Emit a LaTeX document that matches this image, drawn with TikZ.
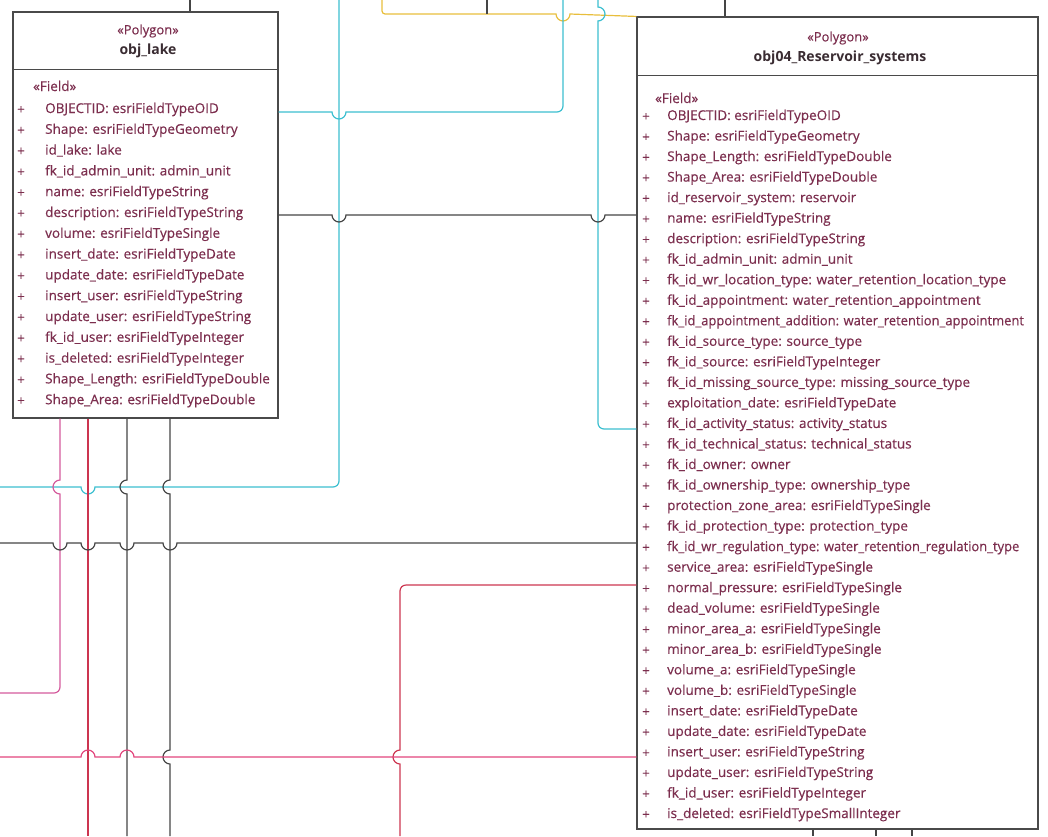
\documentclass[tikz,border=0pt]{standalone}
\usepackage{graphicx}
\usepackage{fontspec}
\setmainfont{Open Sans}
\newfontfamily\fieldfont[FakeBold=0.35]{Open Sans}

\definecolor{fieldred}{HTML}{7C2E4E}
\definecolor{namegray}{HTML}{3A2C32}
\definecolor{boxgray}{HTML}{4A4A4A}
\definecolor{linecyan}{HTML}{3CBFD0}
\definecolor{linegray}{HTML}{454545}
\definecolor{linepink}{HTML}{D45A9C}
\definecolor{linecrimson}{HTML}{CC3550}
\definecolor{linerose}{HTML}{E2457C}
\definecolor{lineyellow}{HTML}{E8BE3C}

\tikzset{
  umlbox/.style={draw=boxgray, line width=1.1pt, fill=white, inner sep=0pt},
  divider/.style={draw=boxgray, line width=1.1pt},
  stereo/.style={inner sep=0pt, text=fieldred, font=\fontsize{13}{13}\fieldfont},
  classname/.style={inner sep=0pt, text=namegray, font=\fontsize{14}{14}\selectfont\bfseries},
  field/.style={anchor=west, inner sep=0pt, text height=9pt, text depth=3pt,
    text=fieldred, font=\fontsize{13.5}{13.5}\fieldfont},
  plus/.style={inner sep=0pt, text=fieldred, font=\fontsize{13}{13}\fieldfont},
  conn/.style={line width=1.2pt},
}

\begin{document}
\begin{tikzpicture}[x=1pt,y=-1pt]
\useasboundingbox (0,0) rectangle (1048,836);

% the two classes
\node[umlbox, minimum width=265pt, minimum height=406pt] (lake) at (145.5,215) {};
\node[umlbox, minimum width=401pt, minimum height=812pt] (reservoir) at (837.5,423) {};
\draw[divider] ([yshift=-58pt]lake.north west) -- ([yshift=-58pt]lake.north east);
\draw[divider] ([yshift=-59pt]reservoir.north west) -- ([yshift=-59pt]reservoir.north east);

\node[stereo] (lakestereo) at (148,31) {«Polygon»};
\node[classname] (lakename) at (148,51) {obj\_lake};
\node[stereo] (resstereo) at (838,38) {«Polygon»};
\node[classname] (resname) at (840,58) {obj04\_Reservoir\_systems};

\node[field] (lakehead) at (33,88) {«Field»};
\node[field] (reshead) at (655,100) {«Field»};

\foreach \f [count=\i from 0] in {OBJECTID: esriFieldTypeOID, Shape: esriFieldTypeGeometry,
  id\_lake: lake, fk\_id\_admin\_unit: admin\_unit, name: esriFieldTypeString,
  description: esriFieldTypeString, volume: esriFieldTypeSingle,
  insert\_date: esriFieldTypeDate, update\_date: esriFieldTypeDate,
  insert\_user: esriFieldTypeString, update\_user: esriFieldTypeString,
  fk\_id\_user: esriFieldTypeInteger, is\_deleted: esriFieldTypeInteger,
  Shape\_Length: esriFieldTypeDouble, Shape\_Area: esriFieldTypeDouble}
{
  \node[plus] (lakeplus\i) at (21,110+20.8*\i) {+};
  \node[field] (lakefield\i) at (45,110+20.8*\i) {\f};
}

\foreach \f [count=\i from 0] in {OBJECTID: esriFieldTypeOID, Shape: esriFieldTypeGeometry,
  Shape\_Length: esriFieldTypeDouble, Shape\_Area: esriFieldTypeDouble,
  id\_reservoir\_system: reservoir, name: esriFieldTypeString,
  description: esriFieldTypeString, fk\_id\_admin\_unit: admin\_unit,
  fk\_id\_wr\_location\_type: water\_retention\_location\_type,
  fk\_id\_appointment: water\_retention\_appointment,
  \scalebox{0.96}[1]{fk\_id\_appointment\_addition: water\_retention\_appointment},
  fk\_id\_source\_type: source\_type, fk\_id\_source: esriFieldTypeInteger,
  fk\_id\_missing\_source\_type: missing\_source\_type,
  exploitation\_date: esriFieldTypeDate, fk\_id\_activity\_status: activity\_status,
  fk\_id\_technical\_status: technical\_status, fk\_id\_owner: owner,
  fk\_id\_ownership\_type: ownership\_type, protection\_zone\_area: esriFieldTypeSingle,
  fk\_id\_protection\_type: protection\_type,
  \scalebox{0.96}[1]{fk\_id\_wr\_regulation\_type: water\_retention\_regulation\_type},
  service\_area: esriFieldTypeSingle, normal\_pressure: esriFieldTypeSingle,
  dead\_volume: esriFieldTypeSingle, minor\_area\_a: esriFieldTypeSingle,
  minor\_area\_b: esriFieldTypeSingle, volume\_a: esriFieldTypeSingle,
  volume\_b: esriFieldTypeSingle, insert\_date: esriFieldTypeDate,
  update\_date: esriFieldTypeDate, insert\_user: esriFieldTypeString,
  update\_user: esriFieldTypeString, fk\_id\_user: esriFieldTypeInteger,
  is\_deleted: esriFieldTypeSmallInteger}
{
  \node[plus] (resplus\i) at (646,117+20.53*\i) {+};
  \node[field] (resfield\i) at (667,117+20.53*\i) {\f};
}

% free ends at the picture's border
\coordinate (cyanAtop) at (563,0);
\coordinate (cyanBtop) at (598,0);
\coordinate (cyanCtop) at (339,0);
\coordinate (cyanCend) at (0,487);
\coordinate (yellowtop) at (382,0);
\coordinate (tickAtop) at (487,0);
\coordinate (tickAfoot) at (487,14);
\coordinate (tickBtop) at (725,0);
\coordinate (tickCtop) at (190,0);
\coordinate (blackFstart) at (0,543);
\coordinate (pinkLend) at (0,693);
\coordinate (roseHstart) at (0,757);
\coordinate (crimsonfoot) at (88,836);
\coordinate (grayAfoot) at (127,836);
\coordinate (grayBfoot) at (170,836);
\coordinate (crimsonGfoot) at (400,836);
\coordinate (resfootA) at (813,836);
\coordinate (resfootB) at (876,836);
\coordinate (resfootC) at (912,836);

% connectors
\draw[conn, lineyellow] (yellowtop) [rounded corners=3pt] -- (382,14) -- (450,14) [sharp corners]
  -- (556,14) arc[start angle=180, end angle=0, radius=7] -- (reservoir.north west);
\draw[conn, linegray] (tickAtop) -- (tickAfoot);
\draw[conn, linegray] (tickBtop) -- (reservoir.north -| tickBtop);
\draw[conn, linegray] (tickCtop) -- (lake.north -| tickCtop);

\draw[conn, linecyan] (lake.east |- 0,112) -- (332,112) arc[start angle=180, end angle=0, radius=7]
  -- (450,112) [rounded corners=6pt] -- (563,112) -- (563,60) [sharp corners] -- (cyanAtop);
\draw[conn, linecyan] (reservoir.west |- 0,429) [rounded corners=6pt] -- (598,429) -- (598,300) [sharp corners]
  -- (598,21) arc[start angle=90, end angle=-90, radius=7] -- (cyanBtop);
\draw[conn, linecyan] (cyanCtop) -- (339,300) [rounded corners=6pt] -- (339,487) -- (220,487) [sharp corners]
  -- (95,487) arc[start angle=0, end angle=180, radius=7] -- (cyanCend);

\draw[conn, linegray] (lake.east |- 0,215) -- (332,215) arc[start angle=180, end angle=0, radius=7]
  -- (591,215) arc[start angle=180, end angle=0, radius=7] -- (reservoir.west |- 0,215);

\draw[conn, linepink] (lake.south -| 60,0) -- (60,480) arc[start angle=270, end angle=90, radius=7]
  -- (60,600) [rounded corners=6pt] -- (60,693) -- (30,693) [sharp corners] -- (pinkLend);
\draw[conn, linecrimson] (lake.south -| crimsonfoot) -- (crimsonfoot);
\draw[conn, linegray] (lake.south -| grayAfoot) -- (127,480) arc[start angle=270, end angle=90, radius=7] -- (grayAfoot);
\draw[conn, linegray] (lake.south -| grayBfoot) -- (170,480) arc[start angle=270, end angle=90, radius=7]
  -- (170,750) arc[start angle=270, end angle=90, radius=7] -- (grayBfoot);

\draw[conn, linegray] (blackFstart) -- (53,543) arc[start angle=180, end angle=0, radius=7]
  -- (81,543) arc[start angle=180, end angle=0, radius=7]
  -- (120,543) arc[start angle=180, end angle=0, radius=7]
  -- (163,543) arc[start angle=180, end angle=0, radius=7] -- (reservoir.west |- 0,543);

\draw[conn, linecrimson] (reservoir.west |- 0,585) [rounded corners=6pt] -- (400,585) -- (400,650) [sharp corners]
  -- (400,750) arc[start angle=270, end angle=90, radius=7] -- (crimsonGfoot);
\draw[conn, linerose] (roseHstart) -- (81,757) arc[start angle=180, end angle=360, radius=7]
  -- (120,757) arc[start angle=180, end angle=360, radius=7] -- (reservoir.west |- 0,757);

\draw[conn, linegray] (reservoir.south -| resfootA) -- (resfootA);
\draw[conn, linegray] (reservoir.south -| resfootB) -- (resfootB);
\draw[conn, linegray] (reservoir.south -| resfootC) -- (resfootC);
\end{tikzpicture}
\end{document}
